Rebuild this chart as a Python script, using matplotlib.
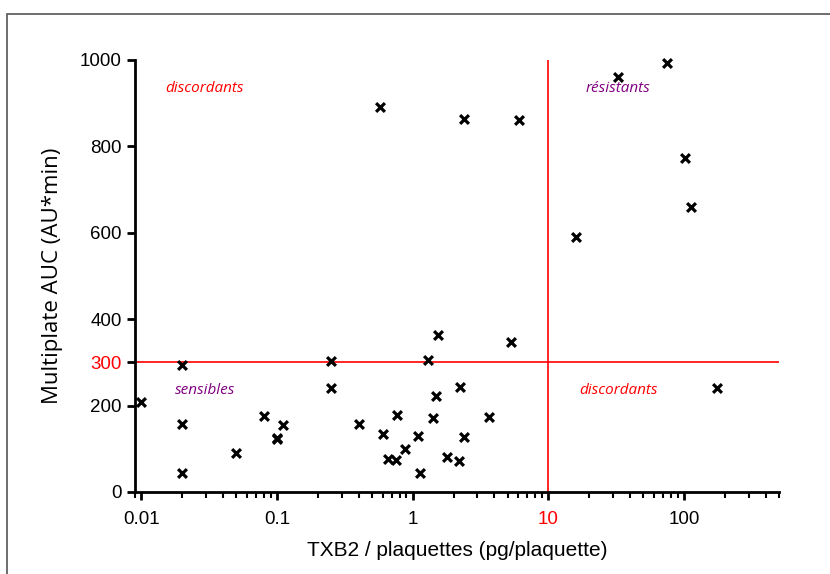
import numpy as np
import matplotlib
matplotlib.use("Agg")
import matplotlib.pyplot as plt
from matplotlib.patches import Rectangle
from matplotlib.ticker import FixedLocator, LogLocator, NullFormatter

# data
txb2 = [0.01, 0.02, 0.02, 0.02, 0.05, 0.08, 0.1, 0.1, 0.11, 0.25, 0.25,
        0.4, 0.6, 0.66, 0.76, 0.77, 0.88, 1.1, 1.13, 1.3, 1.41, 1.48,
        1.53, 1.78, 2.2, 2.23, 2.37, 3.68, 5.32, 6.05, 0.57, 2.37,
        32.3, 75, 101, 112, 16.1, 174]
auc = [209, 295, 158, 45, 90, 177, 126, 122, 155, 304, 241,
       157, 134, 77, 74, 178, 99, 130, 44, 306, 172, 222,
       363, 82, 71, 244, 128, 173, 347, 861, 892, 863,
       961, 992, 773, 660, 590, 241]

x_cut = 10
y_cut = 300
x_ticks = [0.01, 0.1, 1, 10, 100]
x_tick_labels = ["0.01", "0.1", "1", "10", "100"]
y_ticks = [0, 200, 300, 400, 600, 800, 1000]

fig = plt.figure(figsize=(8.3, 5.74), dpi=100)
ax = fig.add_axes([135 / 830, 1 - 492 / 574, 644 / 830, 432 / 574])

# grey frame around the picture (right and bottom edges cut off)
fig.patches.append(Rectangle((7 / 830, -0.1), 1.2, 1 - 14 / 574 + 0.1,
                             transform=fig.transFigure, fill=False,
                             edgecolor="#555555", lw=1.2))

ax.scatter(txb2, auc, marker="x", s=40, c="black", linewidths=2.3, zorder=3,
           clip_on=False)

ax.axvline(x_cut, color="red", lw=1.2, zorder=2)
ax.axhline(y_cut, color="red", lw=1.2, zorder=2)

ax.set_xscale("log")
ax.set_xlim(0.009, 500)
ax.set_ylim(0, 1000)

ax.xaxis.set_major_locator(FixedLocator(x_ticks))
ax.set_xticklabels(x_tick_labels)
ax.xaxis.set_minor_locator(LogLocator(base=10, subs=np.arange(2, 10)))
ax.xaxis.set_minor_formatter(NullFormatter())
ax.set_yticks(y_ticks)

for spine in ["top", "right"]:
    ax.spines[spine].set_visible(False)
for spine in ["left", "bottom"]:
    ax.spines[spine].set_linewidth(2)

for lab in ax.get_xticklabels() + ax.get_yticklabels():
    lab.set_fontfamily("Liberation Sans")
    lab.set_fontsize(13.5)
ax.get_xticklabels()[3].set_color("red")
ax.get_yticklabels()[2].set_color("red")

ax.tick_params(which="major", length=6, width=2, direction="out")
ax.tick_params(which="minor", length=4, width=1.5, direction="out")
ax.tick_params(axis="x", pad=8)

ax.set_xlabel("TXB2 / plaquettes (pg/plaquette)", fontfamily="Liberation Sans",
              fontsize=15, labelpad=9)
ax.set_ylabel("Multiplate AUC (AU*min)", fontfamily="Open Sans",
              fontsize=16, labelpad=12)

note = {"style": "italic", "fontsize": 11, "family": "Open Sans",
        "ha": "center", "va": "center"}
ax.text(0.0295, 935, "discordants", color="red", **note)
ax.text(32.7, 935, "résistants", color="purple", **note)
ax.text(0.0295, 236, "sensibles", color="purple", **note)
ax.text(32.7, 236, "discordants", color="red", **note)

fig.savefig("out.png", dpi=100)
